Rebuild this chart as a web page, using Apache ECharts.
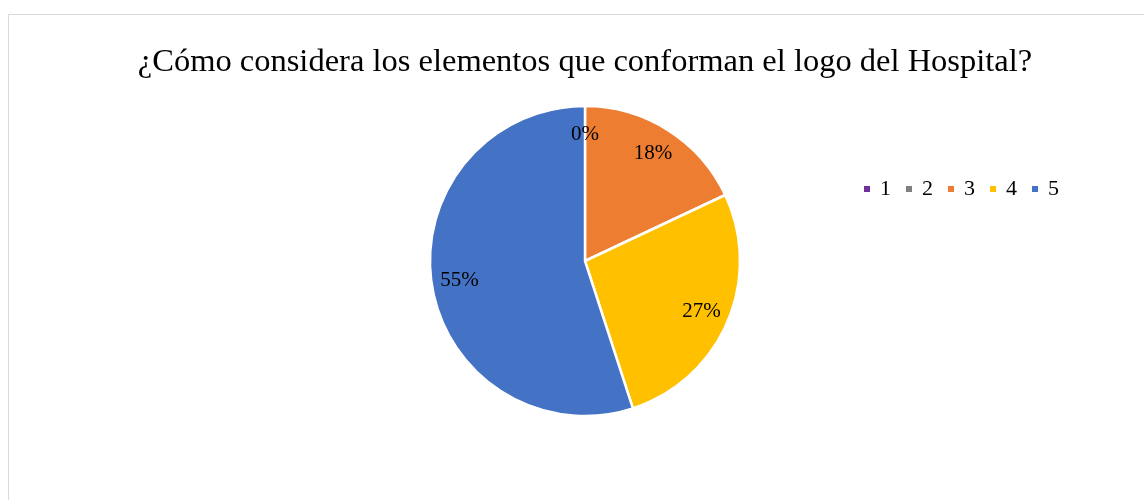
<!DOCTYPE html>
<html>
<head>
<meta charset="utf-8">
<script src="https://cdn.jsdelivr.net/npm/echarts@6/dist/echarts.min.js"></script>
<style>
  html, body { margin: 0; padding: 0; background: #fff; }
  #chart { width: 1144px; height: 500px; }
</style>
</head>
<body>
<div id="chart"></div>
<script>
var categories = ['1', '2', '3', '4', '5'];
var percents = [0, 0, 18, 27, 55];
var colors = ['#7030A0', '#808080', '#ED7D31', '#FFC000', '#4472C4'];
var titleText = '¿Cómo considera los elementos que conforman el logo del Hospital?';

var myChart = echarts.init(document.getElementById('chart'));

var pieData = categories.map(function (c, i) {
  return { name: c, value: percents[i], itemStyle: { color: colors[i] } };
});
// same slices, transparent, only used to put the labels near the edge
var labelData = categories.map(function (c, i) {
  return { name: c, value: percents[i] };
});

var option = {
  backgroundColor: '#fff',
  title: {
    text: titleText,
    left: 580,
    textAlign: 'center',
    top: 41,
    textStyle: { fontFamily: 'Liberation Serif', fontSize: 32.5, fontWeight: 'normal', color: '#000' }
  },
  legend: {
    data: categories,
    left: 862,
    top: 178,
    padding: 0,
    icon: 'rect',
    itemWidth: 8,
    itemHeight: 8,
    itemGap: 13,
    textStyle: { fontFamily: 'Liberation Serif', fontSize: 22, color: '#000', padding: [0, 0, 0, 4] }
  },
  graphic: [{
    type: 'rect',
    shape: { x: 8.5, y: 14.5, width: 1200, height: 600 },
    style: { fill: 'none', stroke: '#d9d9d9', lineWidth: 1 },
    silent: true
  }],
  series: [{
    type: 'pie',
    center: [585, 261],
    radius: 155,
    startAngle: 90,
    clockwise: true,
    minAngle: 0,
    avoidLabelOverlap: false,
    label: { show: false },
    labelLine: { show: false },
    emphasis: { disabled: true },
    itemStyle: { borderColor: '#fff', borderWidth: 2.5 },
    data: pieData
  }, {
    type: 'pie',
    center: [585, 261],
    radius: [93, 155],
    startAngle: 90,
    clockwise: true,
    silent: true,
    avoidLabelOverlap: false,
    itemStyle: { color: 'rgba(0,0,0,0)' },
    emphasis: { disabled: true },
    label: {
      show: true,
      position: 'inside',
      formatter: function (p) { return p.value + '%'; },
      fontFamily: 'Liberation Serif',
      fontSize: 21,
      color: '#000'
    },
    labelLine: { show: false },
    data: labelData
  }]
};
myChart.setOption(option);
</script>
</body>
</html>
